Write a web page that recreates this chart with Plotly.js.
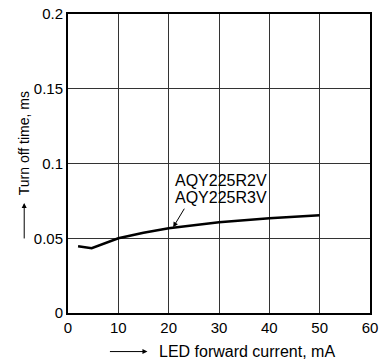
<!DOCTYPE html>
<html><head><meta charset="utf-8">
<script src="https://cdn.plot.ly/plotly-3.0.1.min.js"></script>
<style>body{margin:0;background:#fff}#c{width:386px;height:360px}</style>
</head><body><div id="c"></div>
<script>
const current = [2, 4.7, 10, 15, 20, 30, 40, 50];
const turnOff = [0.0446, 0.0433, 0.05, 0.0537, 0.0567, 0.0607, 0.0634, 0.0654];
const xTicks = [0, 10, 20, 30, 40, 50, 60];
const yTicks = [0, 0.05, 0.1, 0.15, 0.2];
const yTickText = ['0', '0.05', '0.1', '0.15', '0.2'];
const labelLines = ['AQY225R2V', 'AQY225R3V'];

const fam = 'Liberation Sans, Arial, sans-serif';
const tickFont = {family: fam, size: 15, color: '#000'};
const trace = {x: current, y: turnOff, mode: 'lines', line: {color: '#000', width: 2.5}, hoverinfo: 'skip'};
const layout = {
  width: 386, height: 360,
  margin: {l: 68, r: 16, t: 14, b: 47},
  paper_bgcolor: '#fff', plot_bgcolor: '#fff',
  showlegend: false, font: tickFont,
  xaxis: {range: [0, 60], tickvals: xTicks, ticks: '', showgrid: true, gridcolor: '#333', gridwidth: 1,
    zeroline: false, showline: true, linecolor: '#000', linewidth: 2, mirror: true, tickfont: tickFont},
  yaxis: {range: [0, 0.2], tickvals: yTicks, ticktext: yTickText, ticks: '', showgrid: true, gridcolor: '#333', gridwidth: 1,
    zeroline: false, showline: true, linecolor: '#000', linewidth: 2, mirror: true, tickfont: tickFont},
  annotations: [
    {xref: 'paper', yref: 'paper', x: -0.143, y: 0.567, text: 'Turn off time, ms', textangle: -90, showarrow: false, font: {family: fam, size: 14, color: '#000'}, xanchor: 'center', yanchor: 'middle'},
    {xref: 'paper', yref: 'paper', x: -0.145, y: 0.368, ax: 0, ay: 37, axref: 'pixel', ayref: 'pixel', text: '', showarrow: true, arrowhead: 2, arrowsize: 1, arrowwidth: 1, arrowcolor: '#000'},
    {xref: 'paper', yref: 'paper', x: 0.592, y: -0.129, text: 'LED forward current, mA', showarrow: false, font: {family: fam, size: 16, color: '#000'}, xanchor: 'center', yanchor: 'middle'},
    {xref: 'paper', yref: 'paper', x: 0.263, y: -0.129, ax: -39, ay: 0, axref: 'pixel', ayref: 'pixel', text: '', showarrow: true, arrowhead: 2, arrowsize: 1, arrowwidth: 1, arrowcolor: '#000'},
    {xref: 'x', yref: 'y', x: 20.9, y: 0.0574, ax: 12, ay: -20, text: '', showarrow: true, arrowhead: 2, arrowsize: 1, arrowwidth: 1, arrowcolor: '#000'},
    {xref: 'x', yref: 'y', x: 20.9, y: 0.0886, text: labelLines[0], showarrow: false, font: {family: fam, size: 16, color: '#000'}, xanchor: 'left', yanchor: 'middle'},
    {xref: 'x', yref: 'y', x: 20.9, y: 0.0774, text: labelLines[1], showarrow: false, font: {family: fam, size: 16, color: '#000'}, xanchor: 'left', yanchor: 'middle'}
  ]
};
Plotly.newPlot('c', [trace], layout, {displayModeBar: false, staticPlot: true});
</script></body></html>
